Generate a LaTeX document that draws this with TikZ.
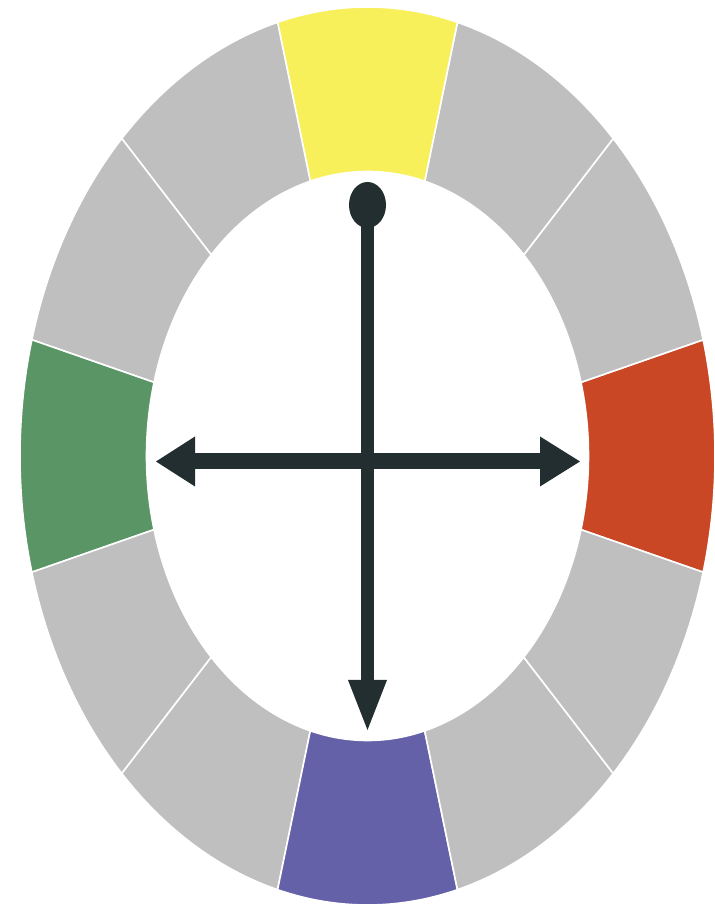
\documentclass[tikz,border=0pt]{standalone}
\begin{document}
\begin{tikzpicture}[x=1pt,y=1pt,
  seg/.style={draw=white,line width=1.6pt,line join=miter},
  ink/.style={fill=darkink}]
\definecolor{wgray}{HTML}{BFBFBF}
\definecolor{wyellow}{HTML}{F8F05A}
\definecolor{wgreen}{HTML}{5A9566}
\definecolor{wred}{HTML}{C94724}
\definecolor{wpurple}{HTML}{6461A8}
\definecolor{darkink}{HTML}{232E30}
\useasboundingbox (0,0) rectangle (715,906);
\fill[white] (0,0) rectangle (715,906);
\begin{scope}[shift={(367.5,450)}]
\foreach \c/\col in {0/wred,30/wgray,60/wgray,90/wyellow,120/wgray,150/wgray,180/wgreen,210/wgray,240/wgray,270/wpurple,300/wgray,330/wgray}{
  \pgfmathsetmacro{\a}{\c-15}
  \pgfmathsetmacro{\b}{\c+15}
  \filldraw[seg,fill=\col] (\a:347.5pt and 449pt)
    arc[start angle=\a,end angle=\b,x radius=347.5pt,y radius=449pt]
    -- (\b:221pt and 284.5pt)
    arc[start angle=\b,end angle=\a,x radius=221pt,y radius=284.5pt]
    -- cycle;
}
\end{scope}
% arrows
\coordinate (top) at (367.5,701);
\coordinate (vback) at (367.5,226);
\coordinate (vtip) at (367.5,176);
\coordinate (lback) at (195,444.5);
\coordinate (ltip) at (156,444.5);
\coordinate (rback) at (540,444.5);
\coordinate (rtip) at (580,444.5);
\draw[darkink,line width=16pt] ([xshift=-1pt]lback) -- ([xshift=1pt]rback);
\draw[darkink,line width=13pt] (top) -- ([yshift=-1pt]vback);
\fill[ink] (top) ellipse[x radius=18.5pt,y radius=23pt];
\fill[ink] (ltip) -- ([yshift=25pt]lback) -- ([yshift=-25pt]lback) -- cycle;
\fill[ink] (rtip) -- ([yshift=25pt]rback) -- ([yshift=-25pt]rback) -- cycle;
\fill[ink] (vtip) -- ([xshift=19.5pt]vback) -- ([xshift=-19.5pt]vback) -- cycle;
\end{tikzpicture}
\end{document}
